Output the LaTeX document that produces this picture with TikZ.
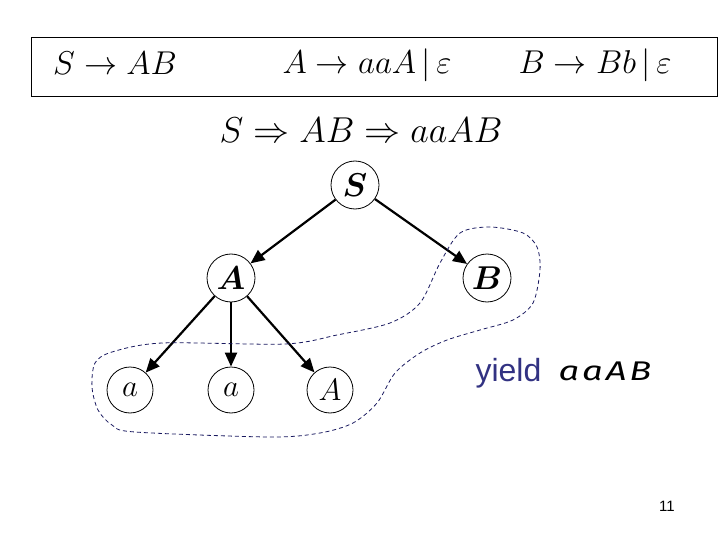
\documentclass[tikz,border=0pt]{standalone}
\usepackage{fix-cm}
\usepackage{amsmath}
\usepackage{fontspec}
\setsansfont{Liberation Sans}
\newfontfamily\yieldfont{Liberation Sans}
\newfontfamily\wordfont[LetterSpace=8]{Fira Sans}
\usetikzlibrary{arrows.meta}
\definecolor{yieldblue}{RGB}{50,50,130}
\definecolor{hullblue}{RGB}{25,25,95}

\begin{document}
\begin{tikzpicture}[x=1pt,y=-1pt,
		knoten/.style={draw,circle,minimum size=48pt,inner sep=0pt,line width=0.8pt,font=\fontsize{33}{36}\selectfont},
		blatt/.style={knoten,minimum size=46pt,font=\fontsize{31}{34}\selectfont},
		kante/.style={-{Triangle[length=14pt,width=12pt]},line width=2.2pt},
		huelle/.style={hullblue,dash pattern=on 4pt off 3pt,line width=0.8pt},
		formel/.style={font=\fontsize{33}{36}\selectfont}]
	\useasboundingbox (0,0) rectangle (720,540);

	% Grammatik oben im Rahmen
	\node[draw,line width=1.3pt,minimum width=686pt,minimum height=59pt,inner sep=0pt,anchor=north west] (rules) at (31,37) {};
	\node[formel] (ruleS) at (115,63) {$S\rightarrow AB$};
	\node[formel] (ruleA) at (367,65) {$A\rightarrow aaA\,|\,\varepsilon$};
	\node[formel] (ruleB) at (595,65) {$B\rightarrow Bb\,|\,\varepsilon$};

	\node[font=\fontsize{36}{40}\selectfont] (deriv) at (361,130) {$S\Rightarrow AB\Rightarrow aaAB$};

	% Ableitungsbaum
	\node[knoten] (S) at (355,185) {$\boldsymbol{S}$};
	\node[knoten] (A) at (231,278) {$\boldsymbol{A}$};
	\node[knoten] (B) at (487,278) {$\boldsymbol{B}$};
	\node[blatt] (a1) at (130,390) {$a$};
	\node[blatt] (a2) at (231,390) {$a$};
	\node[blatt] (A2) at (330,390) {$A$};

	\draw[kante] (S) -- (A);
	\draw[kante] (S) -- (B);
	\draw[kante] (A) -- (a1);
	\draw[kante] (A) -- (a2);
	\draw[kante] (A) -- (A2);

	% Blaetter umrandet
	\draw[huelle] plot[smooth cycle] coordinates {(162,343) (285,344) (337,335) (390,323) (420,303) (440,263)
		(460,233) (490,227) (523,233) (537,247) (540,270) (533,303) (513,320) (480,330) (447,340)
		(420,353) (395,373) (377,403) (353,423) (320,433) (270,437) (135,432) (112,425) (98,410)
		(92,387) (95,363) (112,352)};

	\node[anchor=base west,text=yieldblue,font=\yieldfont\fontsize{32}{35}\selectfont] (yield) at (472,381) {yield};
	\node[anchor=base west,font=\wordfont\itshape\fontsize{27}{30}\selectfont] (word) at (555,380) {\scalebox{1.35}[1]{aaAB}};

	\node[font=\sffamily\fontsize{15}{17}\selectfont] (page) at (667,506) {11};
\end{tikzpicture}
\end{document}
